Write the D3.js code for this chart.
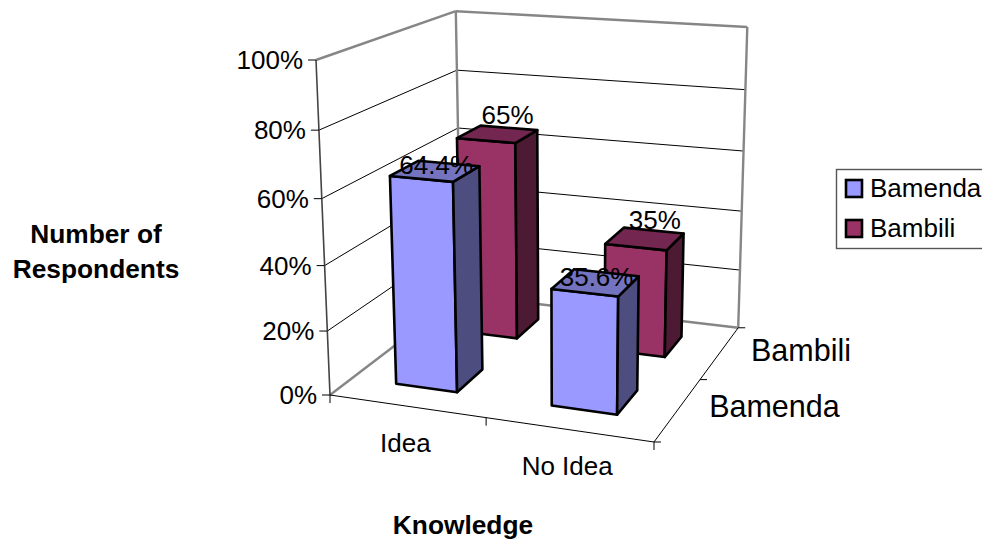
<!DOCTYPE html>
<html>
<head>
<meta charset="utf-8">
<script src="https://cdn.jsdelivr.net/npm/d3@7"></script>
<style>
html, body { margin: 0; padding: 0; background: #fff; overflow: hidden; }
text { font-family: "Liberation Sans", Arial, sans-serif; fill: #000; }
</style>
</head>
<body>
<div id="chart"></div>
<script>
var categories = ["Idea", "No Idea"];
var seriesNames = ["Bamenda", "Bambili"];
var bamenda = [64.4, 35.6];
var bambili = [65, 35];
var valueTicks = [0, 20, 40, 60, 80, 100];
var tickLabels = ["0%", "20%", "40%", "60%", "80%", "100%"];

var width = 982, height = 540;

// face colours per series: front, top, side
var faceColors = [
  { front: "#9999ff", top: "#7373bf", side: "#4d4d80" },
  { front: "#993366", top: "#732650", side: "#4d1a33" }
];

var svg = d3.select("#chart")
  .append("svg")
  .attr("width", width)
  .attr("height", height)
  .style("display", "block");

var xScale = d3.scaleBand().domain(categories).range([-0.004, 0.996]).paddingInner(0.6).paddingOuter(0.3);
var depthScale = d3.scaleBand().domain(seriesNames).range([0, 1]).paddingInner(0.6).paddingOuter(0.3);
var valueScale = d3.scaleLinear().domain([0, 100]).range([0, 1]);

// perspective camera: origin, the three box edges and their foreshortening
var origin = [330, 395];
var edgeX = [654, 442], edgeD = [461, 295], edgeZ = [316, 60];
var persp = { x: -0.07, d: 0.19, z: -0.056 };

function edgeVector(p, k) {
  return [p[0] * (1 + k) - origin[0], p[1] * (1 + k) - origin[1]];
}
var ax = edgeVector(edgeX, persp.x), ad = edgeVector(edgeD, persp.d), az = edgeVector(edgeZ, persp.z);

function project(x, d, z) {
  var w = 1 + persp.x * x + persp.d * d + persp.z * z;
  return [
    (origin[0] + ax[0] * x + ad[0] * d + az[0] * z) / w,
    (origin[1] + ax[1] * x + ad[1] * d + az[1] * z) / w
  ];
}

var line = d3.line();

function seg(a, b, color, w) {
  svg.append("path")
    .attr("d", line([project.apply(null, a), project.apply(null, b)]))
    .attr("fill", "none")
    .attr("stroke", color)
    .attr("stroke-width", w);
}

// gridlines on left and back walls
valueTicks.slice(1, -1).forEach(function(v) {
  var z = valueScale(v);
  seg([0, 0, z], [0, 1, z], "#000", 1);
  seg([0, 1, z], [1, 1, z], "#000", 1);
});

// wall outline
var wallGrey = "#868686";
seg([0, 0, 1], [0, 1, 1], wallGrey, 2.4);
seg([0, 1, 1], [1, 1, 1], wallGrey, 2.4);
seg([0, 1, 0], [0, 1, 1], wallGrey, 2.4);
seg([1, 1, 0], [1, 1, 1], wallGrey, 2.4);
seg([0, 0, 0], [0, 1, 0], wallGrey, 2.4);
seg([0, 1, 0], [1, 1, 0], wallGrey, 2.4);
seg([0, 0, 0], [0, 0, 1], "#444", 1.6);

// floor edges and ticks
seg([0, 0, 0], [1, 0, 0], "#000", 1);
seg([1, 0, 0], [1, 1, 0], "#000", 1);

[0, 0.5, 1].forEach(function(t) {
  var p = project(t, 0, 0);
  svg.append("path").attr("d", line([p, [p[0], p[1] + 8]])).attr("stroke", "#000").attr("stroke-width", 1);
});
[0, 0.5, 1].forEach(function(t) {
  var p = project(1, t, 0);
  svg.append("path").attr("d", line([p, [p[0] + 7, p[1]]])).attr("stroke", "#000").attr("stroke-width", 1);
});

// value axis ticks and labels
valueTicks.forEach(function(v, i) {
  var p = project(0, 0, valueScale(v));
  svg.append("path").attr("d", line([[p[0] - 8, p[1]], p])).attr("stroke", "#000").attr("stroke-width", 1);
  svg.append("text")
    .attr("x", p[0] - 13)
    .attr("y", p[1] + 9)
    .attr("text-anchor", "end")
    .style("font-size", "26px")
    .text(tickLabels[i]);
});

function face(points, color) {
  svg.append("path")
    .attr("d", line(points.map(function(p) { return project.apply(null, p); })) + "Z")
    .attr("fill", color)
    .attr("stroke", "#000")
    .attr("stroke-width", 2.6)
    .attr("stroke-linejoin", "round");
}

function drawBar(category, series, value, colors) {
  var x0 = xScale(category), x1 = x0 + xScale.bandwidth();
  var d0 = depthScale(series), d1 = d0 + depthScale.bandwidth();
  var z = valueScale(value);
  face([[x0, d0, 0], [x1, d0, 0], [x1, d0, z], [x0, d0, z]], colors.front);
  face([[x1, d0, 0], [x1, d1, 0], [x1, d1, z], [x1, d0, z]], colors.side);
  face([[x0, d0, z], [x1, d0, z], [x1, d1, z], [x0, d1, z]], colors.top);
}

// back row first so the near bars cover it
var seriesValues = [bamenda, bambili];
[1, 0].forEach(function(s) {
  categories.forEach(function(c, i) {
    drawBar(c, seriesNames[s], seriesValues[s][i], faceColors[s]);
  });
});

// data labels sit above the top face of each bar
var labelShift = [[1, 3], [10, -10]];
[1, 0].forEach(function(s) {
  categories.forEach(function(c, i) {
    var xc = xScale(c) + xScale.bandwidth() / 2;
    var dc = depthScale(seriesNames[s]) + depthScale.bandwidth() / 2;
    var p = project(xc, dc, valueScale(seriesValues[s][i]));
    svg.append("text")
      .attr("x", p[0] + labelShift[s][0])
      .attr("y", p[1] + labelShift[s][1])
      .attr("text-anchor", "middle")
      .style("font-size", "26px")
      .text(seriesValues[s][i] + "%");
  });
});

// category labels under the front edge
categories.forEach(function(c) {
  var p = project(xScale(c) + xScale.bandwidth() / 2, 0, 0);
  svg.append("text")
    .attr("x", p[0])
    .attr("y", p[1] + 46)
    .attr("text-anchor", "middle")
    .style("font-size", "26px")
    .text(c);
});

// series labels along the right floor edge
seriesNames.forEach(function(n) {
  var p = project(1, depthScale(n) + depthScale.bandwidth() / 2, 0);
  svg.append("text")
    .attr("x", p[0] + 31)
    .attr("y", p[1] + 8)
    .style("font-size", "30.5px")
    .text(n);
});

// axis titles
var yTitle = svg.append("text")
  .attr("text-anchor", "middle")
  .style("font-size", "26.3px")
  .style("font-weight", "bold");
yTitle.append("tspan").attr("x", 96).attr("y", 243).text("Number of");
yTitle.append("tspan").attr("x", 96).attr("y", 278).text("Respondents");

svg.append("text")
  .attr("x", 463)
  .attr("y", 534)
  .attr("text-anchor", "middle")
  .style("font-size", "26.3px")
  .style("font-weight", "bold")
  .text("Knowledge");

// legend, runs off the right edge
var legend = svg.append("g");
legend.append("rect")
  .attr("x", 836.5).attr("y", 169.5)
  .attr("width", 170).attr("height", 79)
  .attr("fill", "#fff")
  .attr("stroke", "#555")
  .attr("stroke-width", 1.4);

seriesNames.forEach(function(n, i) {
  legend.append("rect")
    .attr("x", 846).attr("y", 180 + i * 40)
    .attr("width", 16).attr("height", 17)
    .attr("fill", faceColors[i].front)
    .attr("stroke", "#000")
    .attr("stroke-width", 2.6);
  legend.append("text")
    .attr("x", 870).attr("y", 197 + i * 40)
    .style("font-size", "26px")
    .text(n);
});
</script>
</body>
</html>
